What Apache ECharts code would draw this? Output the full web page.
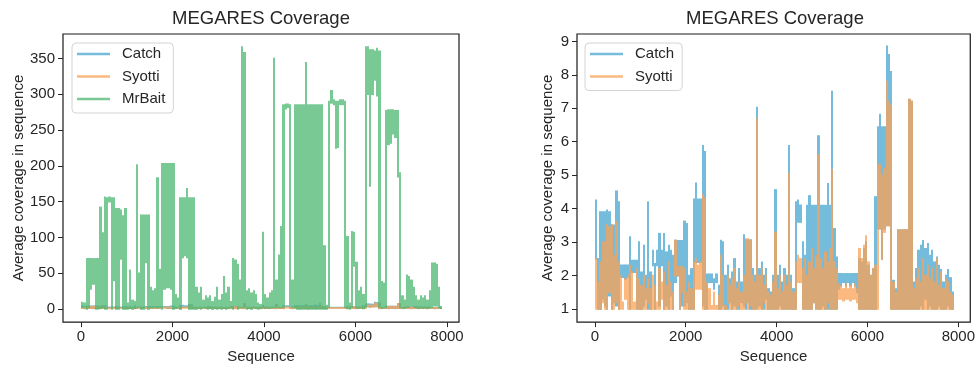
<!DOCTYPE html>
<html>
<head>
<meta charset="utf-8">
<script src="https://cdn.jsdelivr.net/npm/echarts@6/dist/echarts.min.js"></script>
<style>
html,body{margin:0;padding:0;background:#fff;}
#c{width:978px;height:369px;}
</style>
</head>
<body>
<div id="c"></div>
<script>
// Each entry is the [lowest, highest] coverage read inside one bin of 50 sequences (bins start at 0, 50, ... 7850)
const STEP = 50;
const xTicks = [0, 2000, 4000, 6000, 8000];
const leftYTicks = [0, 50, 100, 150, 200, 250, 300, 350];
const rightYTicks = [1, 2, 3, 4, 5, 6, 7, 8, 9];
const titleText = 'MEGARES Coverage';
const xName = 'Sequence';
const yName = 'Average coverage in sequence';
const seriesNames = ['Catch', 'Syotti', 'MrBait'];

const catchBins = [
  [2.5,4.25],[1.0,2.5],[1.0,3.9],[1.3,3.9],[1.1,3.9],[1.0,3.95],[1.4,3.9],[1.0,3.5],[1.2,3.5],[1.1,4.52],
  [1.0,4.2],[1.95,2.31],[1.95,2.31],[1.9,2.31],[1.95,2.31],[1.0,3.15],[2.1,2.45],[2.1,2.45],[1.0,2.45],[1.0,3.0],
  [1.0,2.1],[1.1,2.9],[1.3,2.0],[1.0,4.2],[1.0,2.1],[2.3,2.75],[1.0,2.35],[2.3,2.75],[1.1,3.25],[2.3,2.75],
  [1.0,3.25],[1.1,2.7],[1.0,2.9],[1.4,2.75],[1.0,2.6],[1.8,3.05],[2.0,3.04],[1.0,3.04],[1.1,3.04],[1.1,3.62],
  [1.2,3.55],[1.0,2.0],[1.0,2.2],[1.0,4.28],[2.4,4.76],[2.4,4.28],[2.4,4.28],[1.1,5.88],[1.0,5.7],[1.0,2.04],
  [1.8,2.04],[1.8,2.04],[1.6,1.9],[1.8,2.04],[1.0,1.7],[1.0,3.05],[1.1,3.0],[1.0,2.0],[1.0,2.3],[1.2,1.9],
  [1.0,2.1],[1.1,2.5],[1.0,1.8],[1.0,2.2],[1.2,1.8],[1.1,3.21],[1.0,3.06],[1.2,3.06],[1.0,3.06],[1.0,2.2],
  [1.0,2.0],[1.0,7.02],[1.1,2.2],[1.0,2.4],[1.0,2.0],[1.3,2.2],[1.0,1.6],[1.0,1.5],[1.0,2.0],[1.0,4.56],
  [1.0,2.0],[1.1,2.3],[1.0,1.8],[1.0,2.2],[1.0,2.0],[1.0,5.88],[1.0,2.0],[1.0,1.6],[1.0,4.2],[3.6,4.25],
  [3.6,4.1],[1.0,3.0],[1.0,2.6],[1.0,4.09],[1.0,4.38],[1.0,4.09],[1.2,4.09],[1.0,4.09],[1.0,6.17],[1.0,4.09],
  [1.1,4.09],[1.0,4.09],[1.0,4.74],[1.0,4.09],[1.0,7.5],[1.0,3.4],[1.0,2.55],[1.6,2.05],[1.7,2.05],[1.8,2.05],
  [1.7,2.05],[1.8,2.05],[1.7,2.05],[1.8,2.05],[1.7,2.05],[1.5,2.05],[1.0,2.5],[1.0,2.4],[1.0,2.8],[1.0,3.0],
  [1.0,2.3],[1.0,2.0],[1.0,2.2],[1.0,4.35],[3.4,6.44],[3.4,6.81],[2.5,6.44],[3.4,6.44],[3.5,8.85],[3.5,8.6],
  [1.0,8.09],[1.0,1.85],[1.0,1.6],[1.0,3.36],[1.0,3.36],[1.0,3.36],[1.0,3.36],[1.0,3.36],[1.0,7.26],[1.0,7.2],
  [1.0,1.8],[1.0,2.2],[1.0,2.75],[1.1,2.9],[1.0,3.04],[1.3,2.8],[1.0,2.95],[1.1,2.6],[1.0,2.75],[1.0,2.4],
  [1.0,2.55],[1.1,2.3],[1.0,2.17],[1.0,1.8],[1.0,2.0],[1.1,2.17],[1.0,1.93],[1.0,1.5]
];

const syottiBins = [
  [1.0,2.5],[1.0,1.8],[1.0,2.4],[1.2,3.0],[1.0,3.0],[1.0,3.52],[1.5,3.45],[1.0,3.52],[1.0,2.6],[1.2,3.6],
  [1.0,2.4],[1.0,2.0],[1.0,1.2],[1.3,1.9],[1.0,2.0],[1.0,2.3],[1.0,2.1],[1.0,1.2],[1.0,2.2],[1.0,1.9],
  [1.0,1.7],[1.0,2.0],[1.0,1.6],[1.2,1.9],[1.0,1.6],[1.0,2.0],[1.0,1.7],[1.0,1.2],[1.0,2.2],[1.3,1.8],
  [1.0,2.1],[1.0,1.7],[1.0,2.4],[1.0,1.8],[1.0,1.5],[2.0,3.05],[2.0,2.26],[1.0,2.26],[1.5,2.26],[1.0,2.2],
  [1.0,1.5],[1.0,1.8],[1.0,1.6],[1.0,2.4],[1.6,2.5],[1.6,2.3],[1.6,2.4],[1.0,4.42],[1.0,4.3],[1.0,1.8],
  [1.0,1.6],[1.0,1.1],[1.0,1.5],[1.0,1.1],[1.0,1.4],[1.0,2.6],[1.0,2.0],[1.0,1.1],[1.2,2.0],[1.0,1.7],
  [1.0,1.9],[1.0,2.2],[1.0,1.6],[1.1,1.8],[1.0,1.5],[1.0,2.0],[1.2,3.09],[1.0,3.09],[1.1,3.05],[1.0,2.0],
  [1.0,1.8],[1.0,6.68],[1.0,2.0],[1.0,2.2],[1.2,1.7],[1.0,2.0],[1.0,1.5],[1.0,1.4],[1.0,1.8],[1.0,3.29],
  [1.0,1.6],[1.0,2.0],[1.0,1.5],[1.0,2.0],[1.0,1.7],[1.0,5.05],[1.0,1.8],[1.0,1.5],[1.0,2.4],[1.8,2.6],
  [1.8,2.5],[1.0,2.2],[1.0,2.5],[1.0,2.0],[1.0,2.4],[1.0,2.8],[1.2,2.2],[1.0,2.6],[1.0,5.61],[1.0,2.5],
  [1.0,2.2],[1.0,2.7],[1.2,2.4],[1.0,2.8],[1.0,5.16],[1.0,2.4],[1.0,2.2],[1.3,1.75],[1.3,1.7],[1.25,1.6],
  [1.3,1.75],[1.3,1.6],[1.25,1.7],[1.3,1.6],[1.3,1.75],[1.2,1.6],[1.0,2.8],[1.0,2.5],[1.0,2.9],[1.0,3.18],
  [1.0,2.4],[1.0,2.0],[1.0,2.2],[1.0,2.3],[1.0,5.32],[3.4,5.3],[2.5,5.0],[3.3,5.2],[3.5,7.8],[3.5,7.2],
  [1.0,7.08],[1.0,1.8],[1.0,1.5],[1.0,3.36],[1.0,3.36],[1.0,3.36],[1.0,3.36],[1.0,3.36],[1.0,7.26],[1.0,7.2],
  [1.0,1.6],[1.0,1.9],[1.0,2.2],[1.0,1.8],[1.0,2.5],[1.0,2.0],[1.0,2.3],[1.0,1.9],[1.0,2.2],[1.0,1.8],
  [1.0,2.5],[1.0,1.7],[1.0,2.1],[1.0,1.6],[1.0,1.9],[1.0,1.8],[1.0,1.5],[1.0,1.4]
];

const mrbaitBins = [
  [2,9],[3,8],[0,70],[2,70],[28,70],[35,70],[0,70],[0,70],[1,142],[2,106],
  [0,156],[0,155],[150,156],[0,155],[40,155],[0,140],[0,140],[70,138],[0,130],[0,140],
  [0,8],[1,54],[0,12],[1,10],[2,201],[3,50],[0,131],[0,131],[65,131],[0,131],
  [2,30],[2,25],[3,28],[2,183],[3,55],[0,203],[28,203],[30,203],[30,203],[28,203],
  [0,203],[1,20],[2,15],[0,155],[72,155],[75,155],[72,168],[0,155],[0,155],[0,155],
  [0,30],[1,22],[0,30],[2,12],[1,18],[0,15],[1,18],[0,10],[1,16],[0,30],
  [1,12],[0,20],[1,45],[0,22],[1,30],[2,10],[0,70],[5,68],[0,62],[3,40],
  [2,366],[3,358],[0,25],[1,28],[0,22],[2,25],[1,20],[0,8],[1,6],[2,107],
  [1,20],[2,15],[1,22],[2,25],[2,350],[3,40],[2,75],[2,115],[3,285],[280,286],
  [282,286],[5,285],[3,40],[2,285],[0,285],[0,285],[0,285],[0,285],[0,344],[0,285],
  [0,285],[0,285],[0,285],[0,285],[0,285],[0,285],[0,88],[0,5],[3,290],[288,305],
  [286,292],[225,290],[226,290],[286,292],[286,292],[3,290],[1,101],[0,8],[3,108],[60,107],
  [2,65],[1,25],[2,30],[1,20],[3,366],[300,366],[172,362],[300,362],[320,360],[298,364],
  [3,360],[1,38],[2,36],[2,277],[230,278],[232,278],[245,278],[240,277],[185,277],[2,190],
  [2,18],[1,12],[3,47],[3,45],[5,40],[3,30],[2,18],[1,12],[2,18],[1,15],
  [2,18],[1,12],[2,25],[3,64],[5,64],[5,62],[2,30],[1,3]
];

const FONT = 'Liberation Sans, Arial, DejaVu Sans, sans-serif';
const TXT = '#262626';
const ALPHA = 0.75;
const COLORS = {
  Catch: 'rgb(70,164,208)',
  Syotti: 'rgb(250,162,84)',
  MrBait: 'rgb(76,183,114)'
};

function toData(bins) { return bins.map((b, i) => [i * STEP, b[0], b[1]]); }

function xAxisCfg(gi) {
  return {
    type: 'value', gridIndex: gi, min: -393, max: 8263,
    axisLine: { show: false, onZero: false },
    axisTick: { show: true, length: 5, customValues: xTicks, lineStyle: { color: TXT, width: 1 } },
    axisLabel: { customValues: xTicks, fontSize: 15, color: TXT, fontFamily: FONT, margin: 7,
                 formatter: v => String(v) },
    splitLine: { show: false },
    name: xName, nameLocation: 'middle', nameGap: 25,
    nameTextStyle: { fontSize: 15, color: TXT, fontFamily: FONT }
  };
}
function yAxisCfg(gi, min, max, ticks, gap) {
  return {
    type: 'value', gridIndex: gi, min: min, max: max,
    axisLine: { show: false, onZero: false },
    axisTick: { show: true, length: 5, customValues: ticks, lineStyle: { color: TXT, width: 1 } },
    axisLabel: { customValues: ticks, fontSize: 15, color: TXT, fontFamily: FONT, margin: 8,
                 formatter: v => String(v) },
    splitLine: { show: false },
    name: yName, nameLocation: 'middle', nameGap: gap,
    nameTextStyle: { fontSize: 15, color: TXT, fontFamily: FONT }
  };
}
function rangeSeries(name, bins, gi, z) {
  const color = COLORS[name];
  return {
    type: 'custom', name: name, data: toData(bins),
    xAxisIndex: gi, yAxisIndex: gi, z: z, clip: true,
    encode: { x: 0, y: [1, 2] },
    itemStyle: { color: color, opacity: ALPHA },
    renderItem: function (params, api) {
      const x = api.value(0), lo = api.value(1), hi = api.value(2);
      const a = api.coord([x, hi]);
      const b = api.coord([x + STEP, lo]);
      const x0 = Math.round(a[0]), x1 = Math.round(b[0]);
      const top = a[1] - 0.8, bot = b[1] + 0.8;
      return {
        type: 'rect',
        shape: { x: x0, y: top, width: Math.max(x1 - x0, 1), height: bot - top },
        style: { fill: color, opacity: ALPHA }
      };
    }
  };
}
function legendCfg(left, names) {
  return {
    orient: 'vertical', left: left, top: 43,
    data: names,
    icon: 'rect',
    itemWidth: 33, itemHeight: 2.5, itemGap: 6.5,
    padding: [3, 8, 6, 5],
    backgroundColor: 'rgba(255,255,255,0.85)',
    borderColor: '#d4d4d4', borderWidth: 1, borderRadius: 4,
    itemStyle: { opacity: ALPHA },
    textStyle: { fontSize: 15, color: TXT, fontFamily: FONT, lineHeight: 16, padding: [0, 0, 0, 7] }
  };
}

const chart = echarts.init(document.getElementById('c'), null, { renderer: 'canvas' });
chart.setOption({
  animation: false,
  backgroundColor: '#fff',
  title: [
    { text: titleText, left: 261, top: 9, textAlign: 'center', padding: 0,
      textStyle: { fontSize: 18.5, fontWeight: 'normal', color: TXT, fontFamily: FONT } },
    { text: titleText, left: 775, top: 9, textAlign: 'center', padding: 0,
      textStyle: { fontSize: 18.5, fontWeight: 'normal', color: TXT, fontFamily: FONT } }
  ],
  legend: [legendCfg(72, seriesNames), legendCfg(585, seriesNames.slice(0, 2))],
  grid: [
    { left: 63, top: 34, width: 396, height: 295, show: true, borderColor: '#1a1a1a', borderWidth: 1.2, backgroundColor: 'transparent' },
    { left: 577, top: 34, width: 396, height: 295, show: true, borderColor: '#1a1a1a', borderWidth: 1.2, backgroundColor: 'transparent' }
  ],
  xAxis: [xAxisCfg(0), xAxisCfg(1)],
  yAxis: [yAxisCfg(0, -18.3, 384.3, leftYTicks, 36), yAxisCfg(1, 0.61, 9.22, rightYTicks, 22)],
  series: [
    rangeSeries('Catch', catchBins, 0, 1),
    rangeSeries('Syotti', syottiBins, 0, 2),
    rangeSeries('MrBait', mrbaitBins, 0, 3),
    rangeSeries('Catch', catchBins, 1, 1),
    rangeSeries('Syotti', syottiBins, 1, 2)
  ]
});
</script>
</body>
</html>
